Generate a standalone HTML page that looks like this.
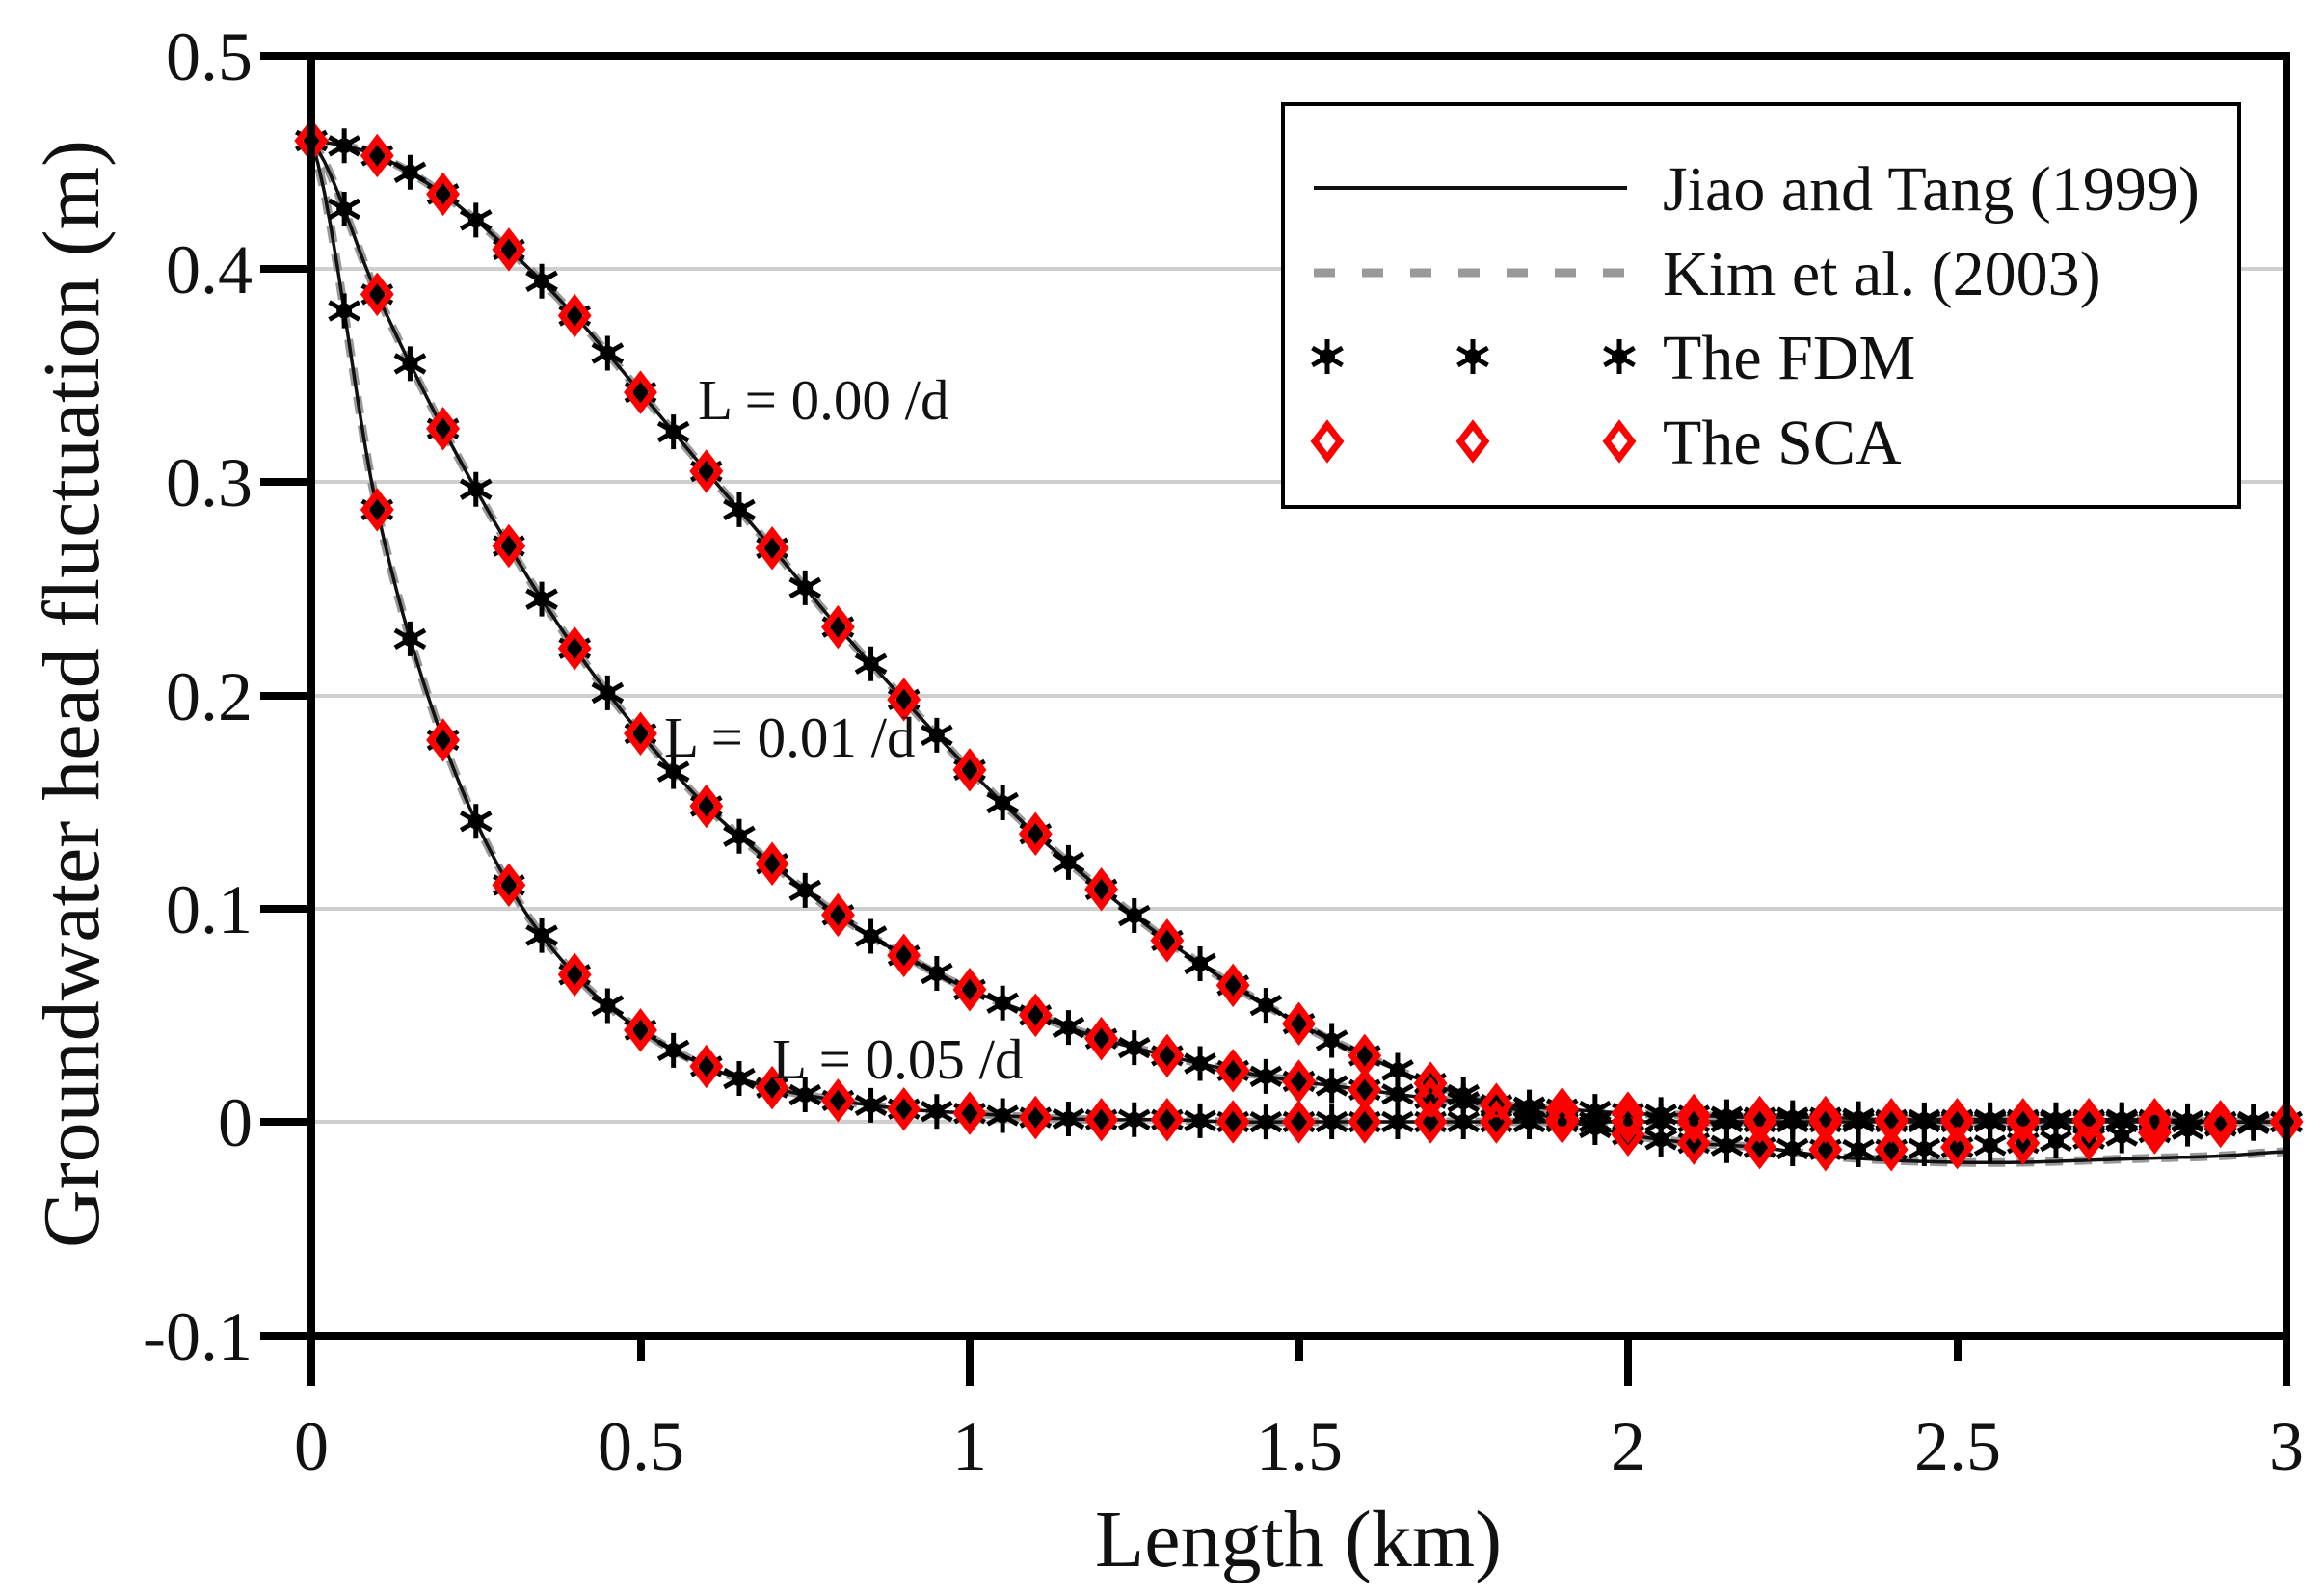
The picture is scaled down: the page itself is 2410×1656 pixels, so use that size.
<!DOCTYPE html>
<html><head><meta charset="utf-8"><style>
html,body{margin:0;padding:0;background:#fff;}
svg{display:block;}
text{font-family:"Liberation Serif",serif;fill:#111;}
</style></head><body>
<svg id="s" width="2410" height="1656" viewBox="0 0 2410 1656" xmlns="http://www.w3.org/2000/svg">
<g id="grid" stroke="#cfcfcf" stroke-width="4">
<line x1="323" y1="279" x2="2372" y2="279"/>
<line x1="323" y1="500" x2="2372" y2="500"/>
<line x1="323" y1="722" x2="2372" y2="722"/>
<line x1="323" y1="943" x2="2372" y2="943"/>
<line x1="323" y1="1164" x2="2372" y2="1164"/>
</g>
<g id="curves"></g>
<g stroke="#000" stroke-width="8" fill="none" stroke-linecap="butt">
<rect x="323" y="58" width="2049" height="1328"/>
<line x1="270" y1="58" x2="323" y2="58"/>
<line x1="270" y1="279" x2="323" y2="279"/>
<line x1="270" y1="500" x2="323" y2="500"/>
<line x1="270" y1="722" x2="323" y2="722"/>
<line x1="270" y1="943" x2="323" y2="943"/>
<line x1="270" y1="1164" x2="323" y2="1164"/>
<line x1="270" y1="1386" x2="323" y2="1386"/>
<line x1="323" y1="1386" x2="323" y2="1438"/>
<line x1="665" y1="1386" x2="665" y2="1412"/>
<line x1="1006" y1="1386" x2="1006" y2="1438"/>
<line x1="1348" y1="1386" x2="1348" y2="1412"/>
<line x1="1689" y1="1386" x2="1689" y2="1438"/>
<line x1="2031" y1="1386" x2="2031" y2="1412"/>
<line x1="2372" y1="1386" x2="2372" y2="1438"/>
</g>
<g font-size="72" text-anchor="end">
<text x="262" y="83">0.5</text>
<text x="262" y="304">0.4</text>
<text x="262" y="525">0.3</text>
<text x="262" y="747">0.2</text>
<text x="262" y="968">0.1</text>
<text x="262" y="1189">0</text>
<text x="262" y="1411">-0.1</text>
</g>
<g font-size="72" text-anchor="middle">
<text x="323" y="1525">0</text>
<text x="665" y="1525">0.5</text>
<text x="1006" y="1525">1</text>
<text x="1348" y="1525">1.5</text>
<text x="1689" y="1525">2</text>
<text x="2031" y="1525">2.5</text>
<text x="2372" y="1525">3</text>
</g>
<text x="1347" y="1625" font-size="84" text-anchor="middle">Length (km)</text>
<text transform="translate(102,720) rotate(-90)" font-size="84" text-anchor="middle">Groundwater head fluctuation (m)</text>
<g font-size="59">
<text x="724" y="435">L = 0.00 /d</text>
<text x="689" y="785">L = 0.01 /d</text>
<text x="801" y="1119">L = 0.05 /d</text>
</g>
<g id="legend">
<rect x="1331" y="108" width="992" height="418" fill="#fff" stroke="#000" stroke-width="4"/>
<line x1="1363" y1="195" x2="1688" y2="195" stroke="#111" stroke-width="4"/>
<line x1="1363" y1="283" x2="1688" y2="283" stroke="#999" stroke-width="9" stroke-dasharray="22,28"/>
<g font-size="66">
<text x="1725" y="218">Jiao and Tang (1999)</text>
<text x="1725" y="306">Kim et al. (2003)</text>
<text x="1725" y="393">The FDM</text>
<text x="1725" y="481">The SCA</text>
</g>
<g id="legm"></g>
</g>
</svg>
<script>
var X=function(v){return 323+v*683;},Y=function(v){return 1164-v*2213;};
var A=[0.46,0.453,0.435,0.409,0.378,0.342,0.305,0.269,0.232,0.198,0.165,0.135,0.109,0.085,0.064,0.046,0.031,0.018,0.008,0.001,-0.006,-0.010,-0.012,-0.013,-0.013,-0.012,-0.010,-0.008,-0.005,-0.002,0];
var AL=A.slice(0,23).concat([-0.016,-0.018,-0.019,-0.019,-0.018,-0.017,-0.016,-0.014]);
var B=[0.46,0.388,0.325,0.27,0.222,0.182,0.148,0.121,0.097,0.078,0.062,0.050,0.039,0.031,0.024,0.019,0.015,0.011,0.008,0.006,0.004,0.003,0.002,0.002,0.001,0.001,0.001,0.001,0.001,0,0];
var C=[0.46,0.287,0.179,0.111,0.069,0.043,0.026,0.016,0.010,0.006,0.004,0.002,0.001,0.001,0,0,0,0,0,0,0,0,0,0,0,0,0,0,0,0,0];
function interp(a,x){var t=x*10,i=Math.floor(t);if(i>=a.length-1)return a[a.length-1];var f=t-i;
 var p0=a[Math.max(i-1,0)],p1=a[i],p2=a[i+1],p3=a[Math.min(i+2,a.length-1)];
 return p1+0.5*f*(p2-p0+f*(2*p0-5*p1+4*p2-p3+f*(3*(p1-p2)+p3-p0)));}
function path(a){var d="";for(var k=0;k<=300;k++){var x=k/100;d+=(k?"L":"M")+X(x).toFixed(1)+","+Y(interp(a,x)).toFixed(1);}return d;}
var NS="http://www.w3.org/2000/svg",g=document.getElementById("curves");
function el(n,at,p){var e=document.createElementNS(NS,n);for(var k in at)e.setAttribute(k,at[k]);(p||g).appendChild(e);return e;}
[AL,B,C].forEach(function(a){el("path",{d:path(a),fill:"none",stroke:"#999","stroke-width":9,"stroke-dasharray":"18,12"});});
[AL,B,C].forEach(function(a){el("path",{d:path(a),fill:"none",stroke:"#111","stroke-width":3.5});});
function star(x,y,p){var d="";for(var k=0;k<3;k++){var an=Math.PI/2+k*Math.PI/3,dx=Math.cos(an)*18,dy=Math.sin(an)*18;d+="M"+(x-dx)+","+(y-dy)+"L"+(x+dx)+","+(y+dy);}
 el("path",{d:d,stroke:"#000","stroke-width":5},p);el("circle",{cx:x,cy:y,r:8,fill:"#000"},p);}
function dia(x,y,p,dot){el("path",{d:"M"+x+","+(y-17)+"L"+(x+13)+","+y+"L"+x+","+(y+17)+"L"+(x-13)+","+y+"Z",fill:"none",stroke:"#f00","stroke-width":7},p);if(dot)el("circle",{cx:x,cy:y,r:5,fill:"#000"},p);}
[A,B,C].forEach(function(a){for(var k=0;k<=60;k++){var x=k*0.05;star(X(x),Y(interp(a,x)));}});
[A,B,C].forEach(function(a){for(var k=0;k<=30;k++){var x=k*0.1;dia(X(x),Y(a[k]),g,true);}});
var lm=document.getElementById("legm");
[1377,1528,1680].forEach(function(x){star(x,370,lm);dia(x,458,lm,false);});
</script>
</body></html>
